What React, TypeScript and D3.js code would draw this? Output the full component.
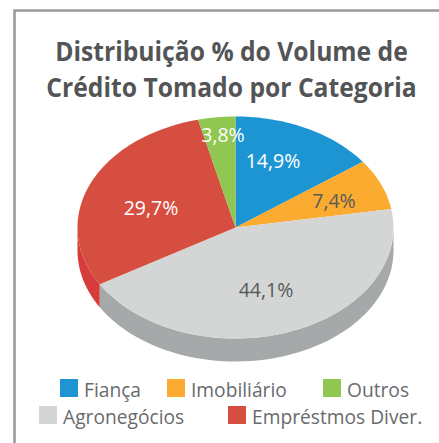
import React from 'react';
import * as d3 from 'd3';

const categories = ['Fiança', 'Imobiliário', 'Agronegócios', 'Empréstmos Diver.', 'Outros'];
const values = [14.9, 7.4, 44.1, 29.7, 3.8];
const valueLabels = ['14,9%', '7,4%', '44,1%', '29,7%', '3,8%'];
const colors = ['#1e95d3', '#fbab2f', '#d4d6d5', '#d64e40', '#8fc751'];
const sideColors = ['#1878ab', '#c98a26', '#a6a9a9', '#d73c3c', '#72a041'];
const labelColors = ['#ffffff', '#58595b', '#58595b', '#ffffff', '#ffffff'];
const titleLines = ['Distribuição % do Volume de', 'Crédito Tomado por Categoria'];

const WIDTH = 439;
const HEIGHT = 443;
const cx = 235.5;
const cy = 227.5;
const rx = 158;
const ry = 111;
const depth = 23;

// the reference title is a condensed face, so squeeze it horizontally
const titleSqueeze = 0.914;
// label centres, by category index
const labelPos: [number, number][] = [[273, 168], [334, 208], [266, 297], [151, 215], [223, 142]];
// legend layout, by category index
const legendPos: [number, number][] = [[60, 379], [167, 379], [39, 406], [228, 406], [323, 379]];

const pieGen = d3.pie<number>().sort(null);
const slices = pieGen(values);

const sx = (a: number) => cx + Math.sin(a) * rx;
const sy = (a: number) => cy - Math.cos(a) * ry;

// top face of one slice
function topPath(a0: number, a1: number) {
  const pts: [number, number][] = d3.range(0, 61).map((i) => {
    const a = a0 + ((a1 - a0) * i) / 60;
    return [sx(a), sy(a)];
  });
  return `M${cx},${cy}L` + pts.map((p) => p.join(',')).join('L') + 'Z';
}

// visible wall under the front edge (angles PI/2 .. 3PI/2)
function sidePath(a0: number, a1: number) {
  const from = Math.max(a0, Math.PI / 2);
  const to = Math.min(a1, (3 * Math.PI) / 2);
  if (to <= from) return null;
  const steps = d3.range(0, 61).map((i) => from + ((to - from) * i) / 60);
  const upper = steps.map((a) => `${sx(a)},${sy(a)}`);
  const lower = steps.slice().reverse().map((a) => `${sx(a)},${sy(a) + depth}`);
  return 'M' + upper.concat(lower).join('L') + 'Z';
}

export default function App() {
  return (
    <svg
      width={WIDTH}
      height={HEIGHT}
      style={{ position: 'absolute', left: 0, top: 0, background: '#fff' }}
      fontFamily="'Open Sans', 'Noto Sans', sans-serif"
    >
      <path d={`M${WIDTH},10.5H14.5V${HEIGHT}`} fill="none" stroke="#9a9a9f" strokeWidth={2.6} />

      {titleLines.map((t, i) => (
        <text
          key={t}
          transform={`translate(231.5,${61 + i * 36}) scale(${titleSqueeze},1)`}
          textAnchor="middle"
          fontSize={27}
          fontWeight={700}
          fill="#525456"
        >
          {t}
        </text>
      ))}

      {slices.map((s, i) => {
        const d = sidePath(s.startAngle, s.endAngle);
        return d ? <path key={i} d={d} fill={sideColors[i]} /> : null;
      })}
      {slices.map((s, i) => (
        <path key={i} d={topPath(s.startAngle, s.endAngle)} fill={colors[i]} />
      ))}

      {slices.map((s, i) => (
        <text
          key={i}
          x={labelPos[i][0]}
          y={labelPos[i][1]}
          textAnchor="middle"
          fontSize={19.5}
          fill={labelColors[i]}
        >
          {valueLabels[i]}
        </text>
      ))}

      {categories.map((c, i) => (
        <g key={c}>
          <rect x={legendPos[i][0]} y={legendPos[i][1]} width={18} height={18} fill={colors[i]} />
          <text x={legendPos[i][0] + 24} y={legendPos[i][1] + 18} fontSize={19.2} fill="#696b6d">
            {c}
          </text>
        </g>
      ))}
    </svg>
  );
}
